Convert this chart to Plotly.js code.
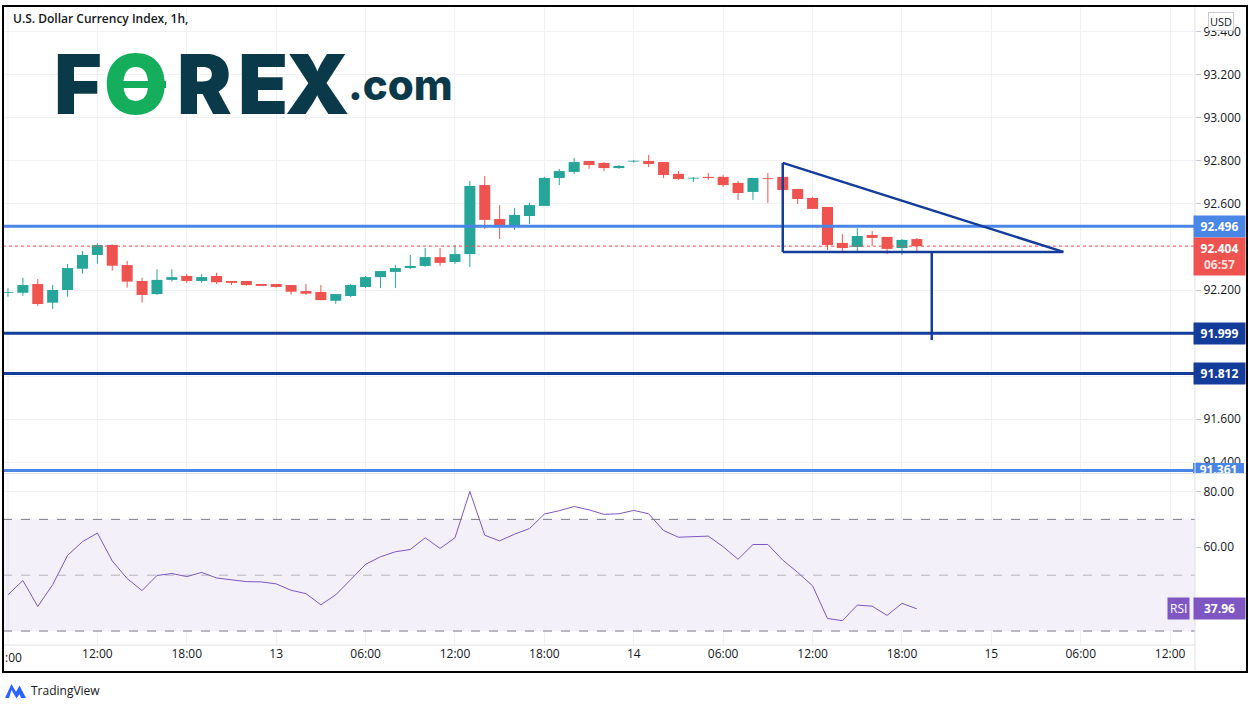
<!DOCTYPE html>
<html>
<head>
<meta charset="utf-8">
<script src="https://cdn.plot.ly/plotly-3.0.1.min.js"></script>
<style>html,body{margin:0;padding:0;background:#fff;}#chart{width:1256px;height:709px;}</style>
</head>
<body>
<div id="chart"></div>
<script>
// ---- data (hourly, U.S. Dollar Currency Index) ----
const times = [
 "2021-01-12 06:00","2021-01-12 07:00","2021-01-12 08:00","2021-01-12 09:00","2021-01-12 10:00","2021-01-12 11:00","2021-01-12 12:00","2021-01-12 13:00","2021-01-12 14:00","2021-01-12 15:00","2021-01-12 16:00","2021-01-12 17:00","2021-01-12 18:00","2021-01-12 19:00","2021-01-12 20:00","2021-01-12 21:00","2021-01-12 22:00","2021-01-12 23:00",
 "2021-01-13 00:00","2021-01-13 01:00","2021-01-13 02:00","2021-01-13 03:00","2021-01-13 04:00","2021-01-13 05:00","2021-01-13 06:00","2021-01-13 07:00","2021-01-13 08:00","2021-01-13 09:00","2021-01-13 10:00","2021-01-13 11:00","2021-01-13 12:00","2021-01-13 13:00","2021-01-13 14:00","2021-01-13 15:00","2021-01-13 16:00","2021-01-13 17:00","2021-01-13 18:00","2021-01-13 19:00","2021-01-13 20:00","2021-01-13 21:00","2021-01-13 22:00","2021-01-13 23:00",
 "2021-01-14 00:00","2021-01-14 01:00","2021-01-14 02:00","2021-01-14 03:00","2021-01-14 04:00","2021-01-14 05:00","2021-01-14 06:00","2021-01-14 07:00","2021-01-14 08:00","2021-01-14 09:00","2021-01-14 10:00","2021-01-14 11:00","2021-01-14 12:00","2021-01-14 13:00","2021-01-14 14:00","2021-01-14 15:00","2021-01-14 16:00","2021-01-14 17:00","2021-01-14 18:00","2021-01-14 19:00"
];
const openP = [
 92.186,92.187,92.228,92.141,92.200,92.299,92.363,92.409,92.316,92.242,92.181,92.247,92.265,92.242,92.265,92.242,92.242,92.228,
 92.228,92.223,92.195,92.191,92.150,92.172,92.214,92.260,92.284,92.302,92.312,92.353,92.330,92.367,92.688,92.530,92.502,92.544,92.591,92.721,92.749,92.800,92.791,92.767,
 92.797,92.800,92.795,92.740,92.718,92.726,92.726,92.698,92.656,92.720,92.726,92.670,92.628,92.586,92.419,92.400,92.456,92.447,92.395,92.437
];
const highP = [
 92.208,92.257,92.251,92.223,92.321,92.381,92.417,92.412,92.335,92.257,92.296,92.296,92.274,92.274,92.280,92.242,92.242,92.228,
 92.228,92.223,92.228,92.223,92.181,92.228,92.265,92.288,92.316,92.363,92.395,92.395,92.409,92.707,92.730,92.595,92.581,92.605,92.726,92.763,92.814,92.800,92.795,92.781,
 92.805,92.828,92.795,92.753,92.726,92.744,92.735,92.707,92.721,92.744,92.772,92.670,92.633,92.586,92.460,92.488,92.474,92.447,92.437,92.442
];
const lowP = [
 92.169,92.173,92.126,92.112,92.169,92.276,92.322,92.290,92.211,92.141,92.178,92.239,92.233,92.233,92.228,92.223,92.220,92.219,
 92.211,92.178,92.177,92.153,92.136,92.167,92.209,92.209,92.209,92.298,92.307,92.312,92.321,92.307,92.484,92.437,92.479,92.507,92.591,92.688,92.740,92.763,92.753,92.763,
 92.792,92.772,92.721,92.712,92.702,92.712,92.680,92.619,92.619,92.605,92.665,92.600,92.577,92.386,92.372,92.372,92.405,92.367,92.363,92.372
];
const closeP = [
 92.188,92.223,92.135,92.200,92.302,92.363,92.409,92.313,92.239,92.177,92.247,92.260,92.242,92.260,92.236,92.233,92.223,92.219,
 92.214,92.192,92.183,92.153,92.181,92.223,92.260,92.288,92.302,92.312,92.353,92.326,92.367,92.684,92.526,92.499,92.549,92.595,92.721,92.753,92.795,92.781,92.767,92.777,
 92.800,92.786,92.735,92.716,92.721,92.721,92.688,92.651,92.721,92.716,92.665,92.623,92.577,92.409,92.395,92.451,92.442,92.391,92.433,92.404
];
const rsi = [
 43.0,48.1,38.8,46.6,57.1,62.0,65.1,55.1,48.8,44.5,49.9,50.6,49.5,51.0,49.0,48.4,47.7,47.6,
 46.9,44.6,43.4,39.4,43.0,48.4,53.9,56.6,58.4,59.2,63.4,59.6,63.4,80.0,64.3,62.3,64.7,66.7,71.9,73.1,74.6,73.4,71.8,72.0,
 73.2,72.0,66.0,63.6,63.7,64.0,60.2,55.7,61.0,61.0,55.4,51.0,46.2,34.5,33.7,39.3,38.9,35.6,39.9,37.96
];
const lastPrice = 92.404;
const lastRsi = 37.96;
const countdown = "06:57";
const lightLevels = [92.496, 91.361];
const darkLevels = [91.999, 91.812];
// triangle drawing (time, price)
const triTimes = ["2021-01-14 10:00", "2021-01-15 04:50"];
const triPrices = [92.791, 92.377];
const targetTime = "2021-01-14 20:00";
const targetPrice = 91.967;
const xTickVals = ["2021-01-12 12:00","2021-01-12 18:00","2021-01-13 00:00","2021-01-13 06:00","2021-01-13 12:00","2021-01-13 18:00","2021-01-14 00:00","2021-01-14 06:00","2021-01-14 12:00","2021-01-14 18:00","2021-01-15 00:00","2021-01-15 06:00","2021-01-15 12:00"];
const xTickText = ["12:00","18:00","13","06:00","12:00","18:00","14","06:00","12:00","18:00","15","06:00","12:00"];
const firstTickTime = "2021-01-12 06:00";
const priceTicks = [91.4,91.6,91.8,92.0,92.2,92.4,92.6,92.8,93.0,93.2,93.4];
const priceTickText = ["91.400","91.600","","","92.200","","92.600","92.800","93.000","93.200","93.400"];
const rsiTicks = [40,60,80];

// ---- colours ----
const UP = "#26a69a", DOWN = "#ef5350", LIGHT = "#4a86e6", DARK = "#143c9a", PURPLE = "#7e57c2";
const GRID = "#eff1f5", SEP = "#dfe2ea", TXT = "#131722";

// ---- build candle traces ----
function candleGroup(up) {
  const bx = [], base = [], h = [], wx = [], wy = [];
  for (let i = 0; i < times.length; i++) {
    const isUp = closeP[i] >= openP[i];
    if (isUp !== up) continue;
    const lo = Math.min(openP[i], closeP[i]);
    bx.push(times[i]); base.push(lo); h.push(Math.max(Math.abs(closeP[i] - openP[i]), 0.004));
    wx.push(times[i], times[i], null); wy.push(lowP[i], highP[i], null);
  }
  const col = up ? UP : DOWN;
  return [
    {type: "scatter", mode: "lines", x: wx, y: wy, xaxis: "x", yaxis: "y", line: {color: col, width: 1}, hoverinfo: "skip", showlegend: false},
    {type: "bar", x: bx, base: base, y: h, xaxis: "x", yaxis: "y", width: 0.74 * 3600000, marker: {color: col, line: {width: 0}}, hoverinfo: "skip", showlegend: false}
  ];
}

const traces = [
  ...candleGroup(true), ...candleGroup(false),
  {type: "scatter", mode: "lines", x: times, y: rsi, xaxis: "x", yaxis: "y2", line: {color: PURPLE, width: 1}, hoverinfo: "skip", showlegend: false}
];

// paper coordinate helpers (plot area: x 3..1195, y 7..645)
const PX = px => (px - 3) / 1192;
const PY = py => (645 - py) / 638;

const shapes = [];
// extra vertical grid line at the first (partly hidden) tick
shapes.push({type: "line", xref: "x", yref: "paper", x0: firstTickTime, x1: firstTickTime, y0: 0, y1: 1, line: {color: GRID, width: 1}, layer: "below"});
// RSI band and dashed levels
shapes.push({type: "rect", xref: "paper", yref: "y2", x0: 0, x1: 1, y0: 30, y1: 70, fillcolor: "rgba(126,87,194,0.09)", line: {width: 0}, layer: "below"});
[70, 30].forEach(v => shapes.push({type: "line", xref: "paper", yref: "y2", x0: 0, x1: 1, y0: v, y1: v, line: {color: "#787b86", width: 1, dash: "dash"}}));
shapes.push({type: "line", xref: "paper", yref: "y2", x0: 0, x1: 1, y0: 50, y1: 50, line: {color: "rgba(120,123,134,0.5)", width: 1, dash: "dash"}});
// last price dotted line
shapes.push({type: "line", xref: "paper", yref: "y", x0: 0, x1: 1, y0: lastPrice, y1: lastPrice, line: {color: DOWN, width: 1, dash: "dot"}});
// horizontal levels
lightLevels.forEach(v => shapes.push({type: "line", xref: "paper", yref: "y", x0: 0, x1: 1, y0: v, y1: v, line: {color: LIGHT, width: 3}}));
darkLevels.forEach(v => shapes.push({type: "line", xref: "paper", yref: "y", x0: 0, x1: 1, y0: v, y1: v, line: {color: DARK, width: 3}}));
// triangle
shapes.push({type: "line", xref: "x", yref: "y", x0: triTimes[0], x1: triTimes[1], y0: triPrices[0], y1: triPrices[1], line: {color: DARK, width: 2.5}});
shapes.push({type: "line", xref: "x", yref: "y", x0: triTimes[0], x1: triTimes[0], y0: triPrices[0], y1: triPrices[1], line: {color: DARK, width: 2.5}});
shapes.push({type: "line", xref: "x", yref: "y", x0: triTimes[0], x1: triTimes[1], y0: triPrices[1], y1: triPrices[1], line: {color: DARK, width: 2.5}});
shapes.push({type: "line", xref: "x", yref: "y", x0: targetTime, x1: targetTime, y0: triPrices[1], y1: targetPrice, line: {color: DARK, width: 2.5}});
// 91.361 tag clipped at pane bottom
shapes.push({type: "rect", xref: "paper", yref: "y", x0: PX(1193), x1: PX(1244), y0: lightLevels[1] - 0.035, y1: lightLevels[1] + 0.035, fillcolor: LIGHT, line: {width: 0},
  label: {text: lightLevels[1].toFixed(3), font: {color: "#ffffff", size: 12, weight: 700}, textposition: "middle center"}});
// separators
shapes.push({type: "line", xref: "paper", yref: "paper", x0: 0, x1: PX(1247), y0: PY(473.5), y1: PY(473.5), line: {color: SEP, width: 1}});
shapes.push({type: "line", xref: "paper", yref: "paper", x0: 0, x1: 1, y0: 0, y1: 0, line: {color: SEP, width: 1}});
shapes.push({type: "line", xref: "paper", yref: "paper", x0: 1, x1: 1, y0: PY(672), y1: PY(6), line: {color: SEP, width: 1}});
// FOREX logo bar inside the green O
shapes.push({type: "rect", xref: "paper", yref: "paper", x0: PX(122), x1: PX(166), y0: PY(88), y1: PY(81), fillcolor: "#14ae5c", line: {width: 0}});
// outer frame
shapes.push({type: "rect", xref: "paper", yref: "paper", x0: PX(3), x1: PX(1247), y0: PY(672), y1: PY(6), line: {color: "#000000", width: 2}});
// TradingView icon
const ic = [[5,698],[11.5,684],[16,692],[19.5,685.5],[26,698],[21,698],[19.5,694],[16.5,698.5],[11.5,690],[9,698]];
shapes.push({type: "path", xref: "paper", yref: "paper", path: "M" + ic.map(p => PX(p[0]) + "," + PY(p[1])).join(" L") + " Z", fillcolor: "#2962ff", line: {width: 0}});

const annotations = [];
const tag = (txt, y, yref, bg, extra) => Object.assign({xref: "paper", yref: yref, x: 1, y: y, xanchor: "left", yanchor: "middle", xshift: -2, text: txt, showarrow: false,
  bgcolor: bg, borderpad: 2, width: 47, align: "center", font: {family: "Open Sans", size: 12, color: "#ffffff", weight: 700}}, extra || {});
annotations.push(tag(lightLevels[0].toFixed(3), lightLevels[0], "y", LIGHT));
annotations.push(tag(lastPrice.toFixed(3) + "<br><span style='color:rgba(255,255,255,0.82)'>" + countdown + "</span>", lastPrice - 0.05, "y", DOWN));
darkLevels.forEach(v => annotations.push(tag(v.toFixed(3), v, "y", DARK)));
annotations.push(tag(lastRsi.toFixed(2), lastRsi, "y2", PURPLE));
annotations.push({xref: "paper", yref: "y2", x: PX(1190), y: lastRsi, xanchor: "right", yanchor: "middle", text: "RSI", showarrow: false, bgcolor: PURPLE, borderpad: 2,
  font: {family: "Open Sans", size: 12, color: "#ffffff"}});
// partly clipped first x tick label
annotations.push({xref: "paper", yref: "paper", x: PX(24), y: PY(657), xanchor: "right", yanchor: "middle", text: ":00", showarrow: false,
  font: {family: "Open Sans", size: 12, color: TXT}});
// USD box
annotations.push({xref: "paper", yref: "paper", x: PX(1221), y: PY(21), xanchor: "center", yanchor: "middle", text: "USD", showarrow: false, bgcolor: "#ffffff",
  bordercolor: "#c9ccd4", borderwidth: 1, borderpad: 1, font: {family: "Open Sans", size: 11, color: TXT}});
// title
annotations.push({xref: "paper", yref: "paper", x: PX(11), y: PY(19), xanchor: "left", yanchor: "middle", text: "U.S. Dollar Currency Index, 1h,", showarrow: false,
  font: {family: "Open Sans", size: 12, color: TXT, weight: 600}});
// FOREX.com logo
const logoLetters = [["F", 78, "#0a3a4a"], ["O", 136, "#14ae5c"], ["R", 204, "#0a3a4a"], ["E", 263, "#0a3a4a"], ["X", 317, "#0a3a4a"]];
logoLetters.forEach(l => annotations.push({xref: "paper", yref: "paper", x: PX(l[1]), y: PY(84), xanchor: "center", yanchor: "middle", text: l[0], showarrow: false,
  font: {family: "Inter", size: 82, color: l[2], weight: 900}}));
annotations.push({xref: "paper", yref: "paper", x: PX(346), y: PY(85), xanchor: "left", yanchor: "middle", text: ".com", showarrow: false,
  font: {family: "Inter", size: 42, color: "#0a3a4a", weight: 800}});
// TradingView text
annotations.push({xref: "paper", yref: "paper", x: PX(29), y: PY(690), xanchor: "left", yanchor: "middle", text: "TradingView", showarrow: false,
  font: {family: "Open Sans", size: 12, color: TXT}});

const layout = {
  width: 1256, height: 709,
  margin: {l: 3, r: 61, t: 7, b: 64},
  paper_bgcolor: "#ffffff", plot_bgcolor: "#ffffff",
  showlegend: false, hovermode: false, barmode: "overlay",
  font: {family: "Open Sans", size: 12, color: TXT},
  xaxis: {type: "date", anchor: "y2", range: ["2021-01-12 05:40", "2021-01-15 13:40"], tickmode: "array", tickvals: xTickVals, ticktext: xTickText,
    showgrid: true, gridcolor: GRID, gridwidth: 1, zeroline: false, showline: false, ticks: "", tickfont: {size: 12, color: TXT}, fixedrange: true},
  yaxis: {domain: [PY(473), 1], range: [91.349, 93.516], side: "right", anchor: "x", tickmode: "array", tickvals: priceTicks, ticktext: priceTickText,
    showgrid: true, gridcolor: GRID, zeroline: false, showline: false, ticks: "outside", ticklen: 5, tickcolor: "#c5c8d0", tickfont: {size: 12, color: TXT}, fixedrange: true},
  yaxis2: {domain: [0, PY(474.5)], range: [25, 86.07], side: "right", anchor: "x", tickmode: "array", tickvals: rsiTicks, ticktext: ["", "60.00", "80.00"],
    showgrid: true, gridcolor: GRID, zeroline: false, showline: false, ticks: "outside", ticklen: 5, tickcolor: "#c5c8d0", tickfont: {size: 12, color: TXT}, fixedrange: true},
  shapes: shapes,
  annotations: annotations
};

Plotly.newPlot("chart", traces, layout, {displayModeBar: false, staticPlot: true});
</script>
</body>
</html>
